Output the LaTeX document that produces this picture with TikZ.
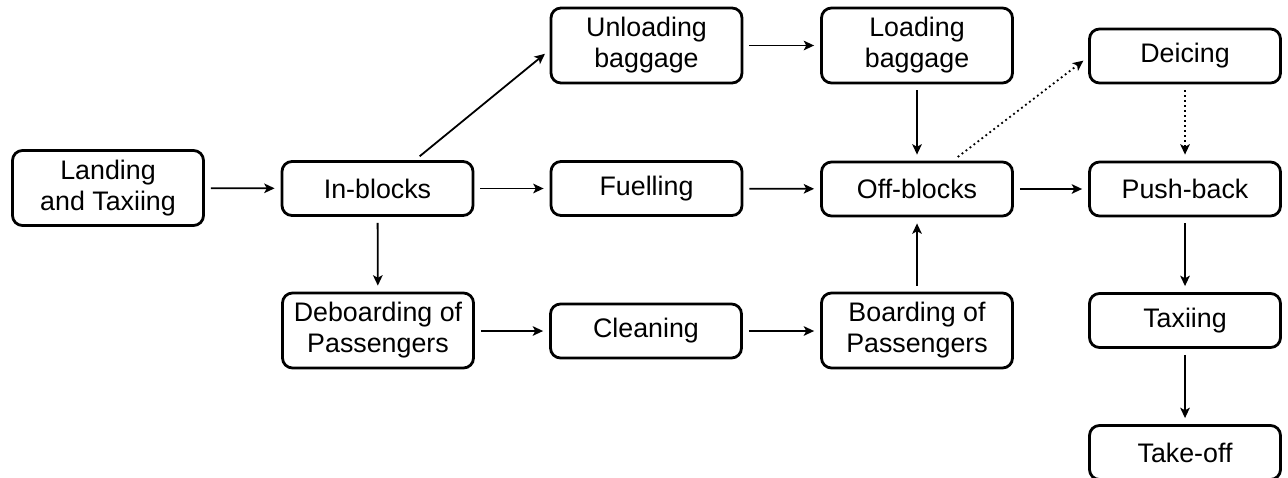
\documentclass[tikz,border=0pt]{standalone}
\usepackage{fontspec}
\setmainfont{Liberation Sans}
\usetikzlibrary{arrows.meta}
\begin{document}
\begin{tikzpicture}[x=0.5pt,y=-0.5pt,
  box/.style={draw,line width=1.4pt,rounded corners=5pt,minimum width=95.5pt,
    align=center,inner sep=0pt,font=\fontsize{13.4}{15.5}\selectfont},
  one/.style={box,minimum height=27pt},
  two/.style={box,minimum height=37.5pt},
  arr/.style={line width=0.9pt,-{Stealth[length=5.2pt,width=4.8pt,inset=1.3pt]},shorten >=3pt,shorten <=3pt},
  dot/.style={arr,dash pattern=on 0.9pt off 1.6pt}]
\useasboundingbox (0,0) rectangle (1288,477);
\node[two] (land) at (108,188) {Landing\\and Taxiing};
\node[one] (inb) at (377.5,188.5) {In-blocks};
\node[two] (unl) at (646.5,45.5) {Unloading\\baggage};
\node[two] (load) at (917,45.5) {Loading\\baggage};
\node[one] (deice) at (1185,56) {Deicing};
\node[one] (fuel) at (646.5,188.5) {Fuelling};
\node[one] (off) at (917,189) {Off-blocks};
\node[one] (push) at (1185,189) {Push-back};
\node[two] (debo) at (378,330.5) {Deboarding of\\Passengers};
\node[one] (clean) at (646,331) {Cleaning};
\node[two] (boar) at (917,330.5) {Boarding of\\Passengers};
\node[one] (taxi) at (1185,320.5) {Taxiing};
\node[one] (take) at (1185,452.5) {Take-off};
\draw[arr] (land) -- (inb);
\draw[arr] (inb) -- (fuel);
\draw[arr] (fuel) -- (off);
\draw[arr] (off) -- (push);
\draw[arr] (inb) -- (debo);
\draw[arr] (debo.east|-clean) -- (clean);
\draw[arr] (clean) -- (boar.west|-clean);
\draw[arr] (boar) -- (off);
\draw[arr] (unl) -- (load);
\draw[arr] (load) -- (off);
\draw[arr] ([xshift=18.75pt]inb.north) -- ([yshift=-2.25pt]unl.west);
\draw[dot] ([xshift=18pt]off.north) -- ([yshift=-0.5pt]deice.west);
\draw[dot] (deice) -- (push);
\draw[arr] (push) -- (taxi);
\draw[arr] (taxi) -- (take);
\end{tikzpicture}
\end{document}
